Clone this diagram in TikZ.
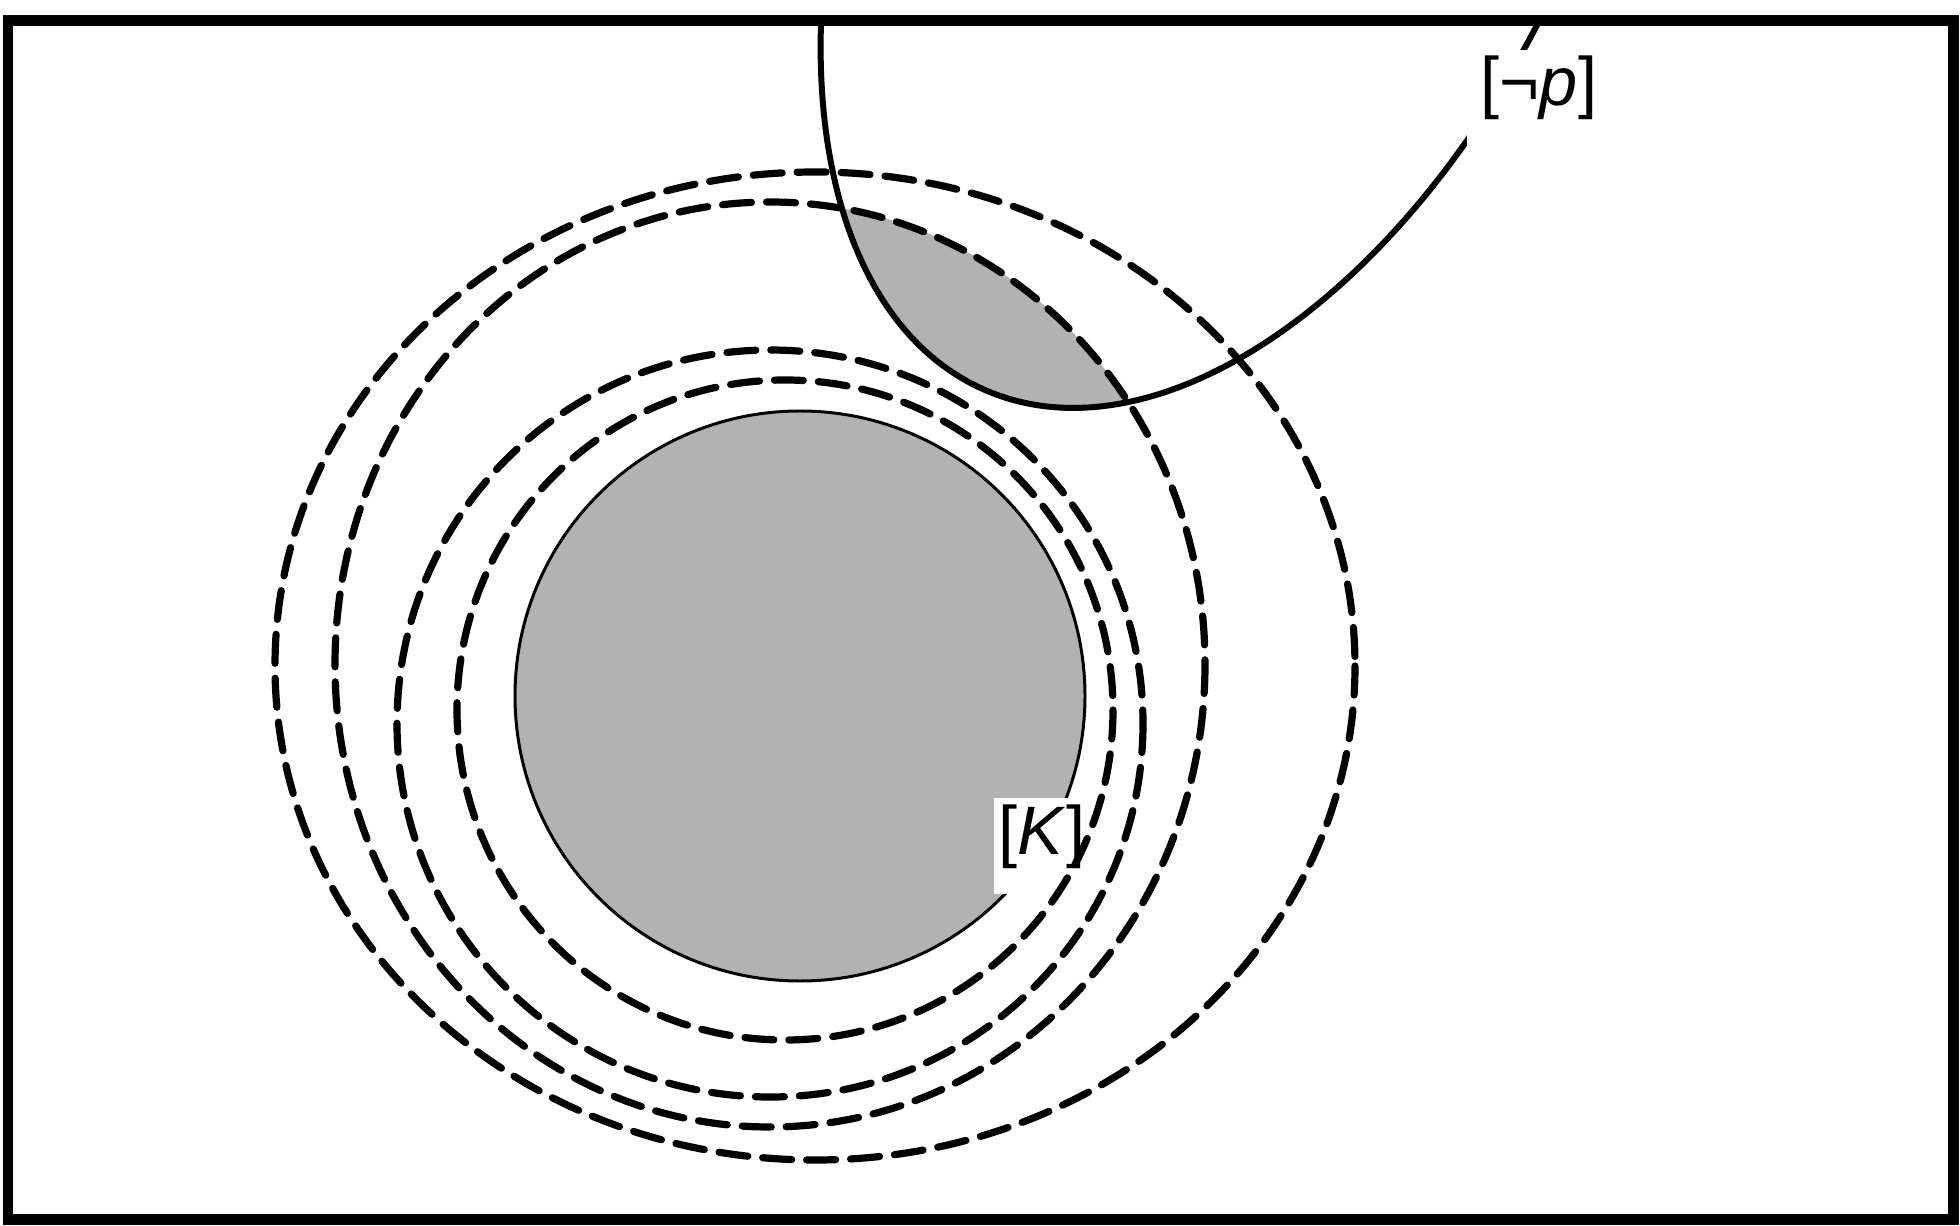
\documentclass[tikz,border=0pt]{standalone}
\usepackage{fontspec}
\setmainfont{Liberation Sans}
\begin{document}
\begin{tikzpicture}[x=0.1mm,y=-0.1mm,
  dashring/.style={line width=2.05pt, dash pattern=on 2.9mm off 1.5mm, line cap=round},
  solidring/.style={line width=1.7pt},
  shadefill/.style={fill=black!30},
  lbl/.style={fill=white, inner xsep=1.5pt, inner ysep=0pt, text height=16pt, text depth=11.5pt,
              font=\fontsize{19.5}{23}\selectfont, anchor=base}
]
\useasboundingbox (0,0) rectangle (1960,1226);
\begin{scope}
  \clip (8,20.5) rectangle (1953.5,1219.5);
  % shaded [K] disc
  \fill[shadefill, draw=black, line width=0.85pt] (800,696) circle [radius=285];
  % shaded lens: [not p] intersected with second ring
  \begin{scope}
    \clip[rotate around={66.3:(1238,-188)}] (1238,-188) ellipse [x radius=631, y radius=362];
    \fill[shadefill] (770,664.5) ellipse [x radius=435, y radius=462.5];
  \end{scope}
  \node[lbl] (K) at (1042,854) {[\textit{K}]};
  % dashed spheres
  \draw[dashring] (815,666) ellipse [x radius=540, y radius=494];
  \draw[dashring] (770,664.5) ellipse [x radius=435, y radius=462.5];
  \draw[dashring] (770,723.5) ellipse [x radius=373, y radius=373.5];
  \draw[dashring] (785,710) ellipse [x radius=328, y radius=330];
  % [not p]
  \draw[solidring, rotate around={66.3:(1238,-188)}] (1238,-188) ellipse [x radius=631, y radius=362];
  \node[lbl, inner xsep=4pt, text depth=12.5pt] (np) at (1539,106) {[¬\textit{p}]};
\end{scope}
\draw[line width=3.1pt] (8,20.5) rectangle (1953.5,1219.5);
\end{tikzpicture}
\end{document}
